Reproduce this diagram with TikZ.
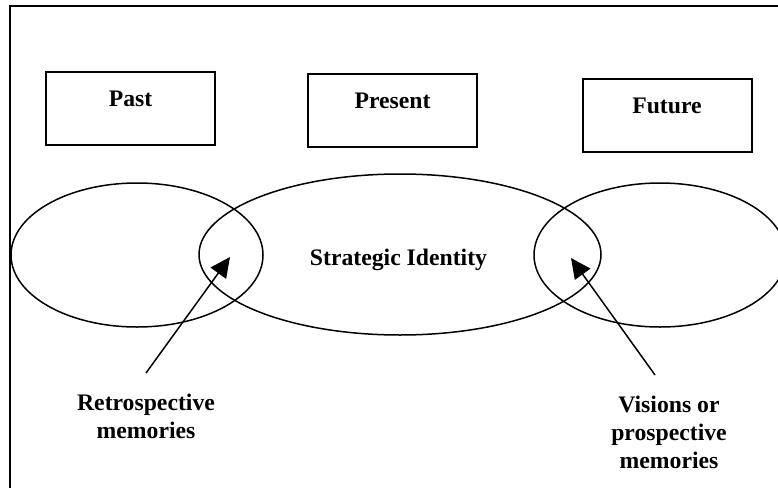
\documentclass[tikz,border=0pt]{standalone}
\usepackage{fontspec}
\setmainfont{Liberation Serif}
\usetikzlibrary{arrows.meta}

\begin{document}
\begin{tikzpicture}[x=1pt,y=-1pt,
  every node/.style={font=\fontsize{23.7}{28}\selectfont\bfseries, inner sep=0pt},
  timebox/.style={draw, line width=2pt, minimum width=169pt, minimum height=73pt},
  label/.style={anchor=base, align=center},
  zone/.style={line width=1.5pt},
  pointer/.style={line width=1.5pt, -{Triangle[length=20pt,width=19pt]}}]
  \useasboundingbox (0,0) rectangle (778,487);
  \begin{scope}
    \clip (0,0) rectangle (778,487);
    % outer frame
    \draw[line width=2pt] (9.5,6.5) rectangle (800,500);
    % time boxes
    \node[timebox] (past)    at (130.5,108.5) {};
    \node[timebox] (present) at (392.5,110)   {};
    \node[timebox] (future)  at (667,115)     {};
    \node[label] (pastlbl)    at (130.5,106.5) {Past};
    \node[label] (presentlbl) at (392.5,108.5) {Present};
    \node[label] (futurelbl)  at (667,113)     {Future};
    % overlapping zones
    \draw[zone] (137,255) ellipse [x radius=126, y radius=72];
    \draw[zone] (400,254.5) ellipse [x radius=201, y radius=80.5];
    \draw[zone] (660,255) ellipse [x radius=126, y radius=72];
    \node[label] (identity) at (398.5,265) {Strategic Identity};
    % pointers to the overlaps (base anchor sits on the last line)
    \node[label] (retro)  at (146,438) {Retrospective\\memories};
    \node[label] (vision) at (669,468) {Visions or\\prospective\\memories};
    \coordinate (rtail) at (146,373);
    \coordinate (rtip)  at (230,257);
    \coordinate (vtail) at (655,375);
    \coordinate (vtip)  at (571,258);
    \draw[pointer] (rtail) -- (rtip);
    \draw[pointer] (vtail) -- (vtip);
  \end{scope}
\end{tikzpicture}
\end{document}
